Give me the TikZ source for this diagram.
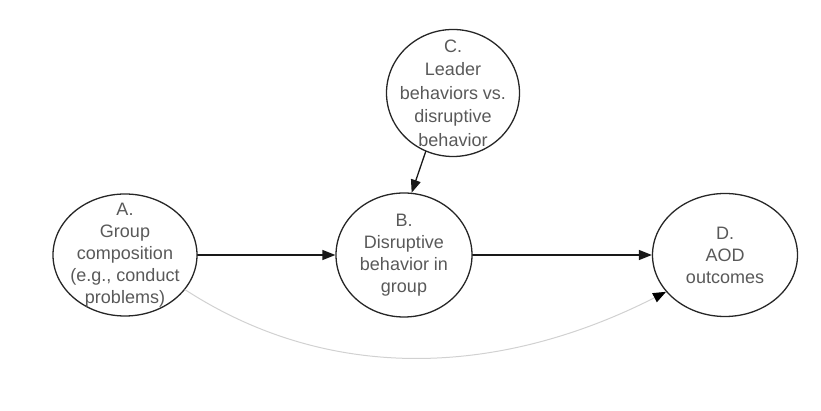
\documentclass[tikz,border=0pt]{standalone}
\usepackage{fontspec}
\setmainfont{Liberation Sans}
\usetikzlibrary{arrows.meta,shapes.geometric}

\begin{document}
\begin{tikzpicture}[line cap=round,line join=round,>={Triangle[length=13pt,width=10pt]},x=1pt,y=1pt,
  bubble/.style={ellipse,draw=black!85,line width=1.3pt,inner sep=0pt},
  txt/.style={align=center,text=black!65,font=\fontsize{18}{22}\selectfont},
  link/.style={->,line width=1.3pt,black!90},
  faint/.style={line width=1pt,black!18}]
\useasboundingbox (0,0) rectangle (821,411);
\node[bubble,minimum width=144pt,minimum height=122pt,
  label={[txt]center:{A.\\Group\\composition\\(e.g., conduct\\problems)}}] (grp) at (125,156) {};
\node[bubble,minimum width=136pt,minimum height=124pt,
  label={[txt]center:{B.\\Disruptive\\behavior in\\group}}] (dis) at (404,156) {};
\node[bubble,minimum width=133pt,minimum height=127pt,
  label={[txt,font=\fontsize{18}{23.5}\selectfont]center:{C.\\Leader\\behaviors vs.\\disruptive\\behavior}}] (lead) at (453,318) {};
\node[bubble,minimum width=145pt,minimum height=123pt,
  label={[txt]center:{D.\\AOD\\outcomes}}] (aod) at (725,156) {};
\draw[link] (grp.east) -- (dis.west);
\draw[link] (dis.east) -- (aod.west);
\draw[link] (lead.245) -- (dis.83);
\draw[faint,-{Triangle[length=13pt,width=10pt,black]}] (grp.-30) to[out=-33,in=207,looseness=0.95] (aod.212);
\end{tikzpicture}
\end{document}
